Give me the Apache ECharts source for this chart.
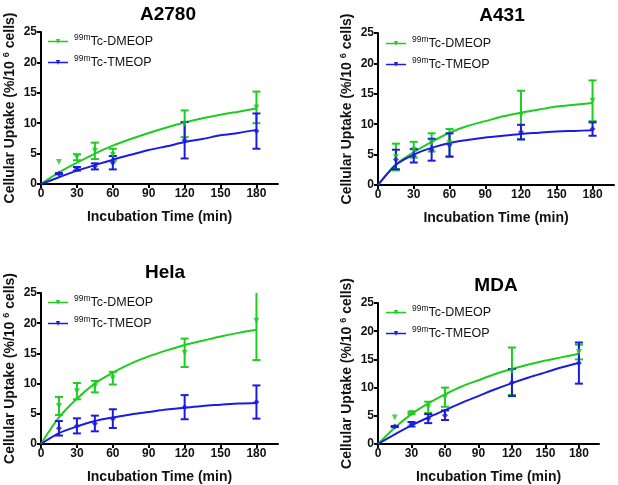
<!DOCTYPE html>
<html><head><meta charset="utf-8">
<script src="https://cdn.jsdelivr.net/npm/echarts@6/dist/echarts.min.js"></script>
<style>html,body{margin:0;padding:0;background:#fff}#c{width:618px;height:485px}</style>
</head><body><div id="c"></div>
<script>
// ---- data ----
const panelTitles = ['A2780', 'A431', 'Hela', 'MDA'];
const times = [15, 30, 45, 60, 120, 180];
const fitTimes = [0, 15, 30, 45, 60, 75, 90, 105, 120, 135, 150, 165, 180];
const xTicks = [0, 30, 60, 90, 120, 150, 180];

const a2780DmeopMean = [3.6, 4.4, 5.45, 4.8, 9.9, 12.6];
const a2780DmeopErr  = [0, 0.5, 1.35, 1.0, 2.2, 2.6];
const a2780TmeopMean = [1.7, 2.5, 2.9, 3.5, 7.2, 8.7];
const a2780TmeopErr  = [0.1, 0.3, 0.5, 1.1, 3.0, 2.9];
const a2780DmeopFit  = [0, 1.9, 3.5, 5.0, 6.3, 7.4, 8.4, 9.3, 10.1, 10.8, 11.4, 11.9, 12.4];
const a2780TmeopFit  = [0, 1.1, 2.2, 3.1, 4.0, 4.8, 5.6, 6.2, 6.9, 7.4, 8.0, 8.4, 8.9];

const a431DmeopMean = [4.6, 5.8, 7.0, 6.9, 11.5, 13.85];
const a431DmeopErr  = [2.2, 1.3, 1.5, 2.3, 4.0, 3.35];
const a431TmeopMean = [4.2, 4.8, 5.8, 6.6, 8.7, 9.2];
const a431TmeopErr  = [1.6, 1.1, 1.8, 1.9, 1.2, 1.1];
const a431DmeopFit  = [0, 3.4, 5.4, 7.1, 8.6, 9.7, 10.5, 11.3, 11.9, 12.4, 12.9, 13.2, 13.5];
const a431TmeopFit  = [0, 3.3, 5.0, 6.1, 6.9, 7.4, 7.8, 8.1, 8.4, 8.6, 8.8, 8.9, 9.0];

const helaDmeopMean = [6.3, 8.75, 9.5, 10.9, 15.1, 20.4];
const helaDmeopErr  = [1.5, 1.35, 0.95, 1.05, 2.35, 6.5];
const helaTmeopMean = [2.6, 3.0, 3.4, 4.2, 6.1, 6.95];
const helaTmeopErr  = [1.2, 1.25, 1.3, 1.55, 2.0, 2.75];
const helaDmeopFit  = [0, 4.4, 7.5, 10.0, 11.8, 13.3, 14.5, 15.5, 16.4, 17.1, 17.8, 18.4, 18.9];
const helaTmeopFit  = [0, 1.8, 2.9, 3.8, 4.4, 4.9, 5.3, 5.7, 6.0, 6.3, 6.5, 6.7, 6.8];

const mdaDmeopMean = [4.7, 5.5, 6.5, 8.3, 12.9, 16.3];
const mdaDmeopErr  = [0, 0.2, 1.0, 1.7, 4.2, 1.3];
const mdaTmeopMean = [3.1, 3.5, 4.5, 5.1, 10.9, 14.35];
const mdaTmeopErr  = [0.1, 0.4, 0.8, 0.85, 2.4, 3.65];
const mdaDmeopFit  = [0, 2.9, 5.3, 7.2, 8.8, 10.2, 11.3, 12.4, 13.3, 14.1, 14.8, 15.4, 16.0];
const mdaTmeopFit  = [0, 1.7, 3.3, 4.7, 6.0, 7.3, 8.5, 9.7, 10.8, 11.8, 12.7, 13.6, 14.4];

const seriesNames = ['99mTc-DMEOP', '99mTc-TMEOP'];

// ---- layout / style ----
const FONT = 'Liberation Sans, Arial, sans-serif';
const GREEN = '#1fcc1f';
const BLUE = '#1c1ce0';
const YMAX = 25, XMAX = 198;

const panels = [
  {title: panelTitles[0], dm: a2780DmeopMean, de: a2780DmeopErr, tm: a2780TmeopMean, te: a2780TmeopErr, df: a2780DmeopFit, tf: a2780TmeopFit,
   grid: {left: 41, top: 32, width: 237, height: 152}, titlePos: [163, 0], legend: [48, 41]},
  {title: panelTitles[1], dm: a431DmeopMean, de: a431DmeopErr, tm: a431TmeopMean, te: a431TmeopErr, df: a431DmeopFit, tf: a431TmeopFit,
   grid: {left: 378, top: 33, width: 236, height: 152}, titlePos: [497, 1], legend: [386, 43]},
  {title: panelTitles[2], dm: helaDmeopMean, de: helaDmeopErr, tm: helaTmeopMean, te: helaTmeopErr, df: helaDmeopFit, tf: helaTmeopFit,
   grid: {left: 41, top: 293, width: 237, height: 152}, titlePos: [160, 258], legend: [48, 302]},
  {title: panelTitles[3], dm: mdaDmeopMean, de: mdaDmeopErr, tm: mdaTmeopMean, te: mdaTmeopErr, df: mdaDmeopFit, tf: mdaTmeopFit,
   grid: {left: 378, top: 303, width: 221, height: 141}, titlePos: [491, 271], legend: [386, 312]}
];

function errRender(color) {
  return function (params, api) {
    const x = api.value(0), m = api.value(1), e = api.value(2);
    if (!(e > 0)) return null;
    const hiV = m + e, loV = Math.max(0, m - e);
    const clipped = hiV > YMAX;
    const top = api.coord([x, Math.min(hiV, YMAX)]);
    const bot = api.coord([x, loV]);
    const hw = 4;
    const st = {stroke: color, lineWidth: 2};
    const ch = [
      {type: 'line', shape: {x1: top[0], y1: top[1], x2: bot[0], y2: bot[1]}, style: st},
      {type: 'line', shape: {x1: bot[0] - hw, y1: bot[1], x2: bot[0] + hw, y2: bot[1]}, style: st}
    ];
    if (!clipped) ch.push({type: 'line', shape: {x1: top[0] - hw, y1: top[1], x2: top[0] + hw, y2: top[1]}, style: st});
    return {type: 'group', children: ch};
  };
}

const legendIcon = 'path://M0,3.2 L20,3.2 L20,4.8 L0,4.8 Z M8,1.5 L12,1.5 L10,6.5 Z';

const option = {
  backgroundColor: '#fff',
  animation: false,
  title: [], grid: [], xAxis: [], yAxis: [], legend: [], series: []
};

panels.forEach((p, i) => {
  option.title.push({text: p.title, left: p.titlePos[0], top: p.titlePos[1], textAlign: 'center',
    textStyle: {fontFamily: FONT, fontWeight: 'bold', fontSize: 19, color: '#000'}});
  option.grid.push(Object.assign({containLabel: false}, p.grid));
  option.xAxis.push({
    gridIndex: i, type: 'value', min: 0, max: XMAX,
    name: 'Incubation Time (min)', nameLocation: 'middle', nameGap: 26,
    nameTextStyle: {fontFamily: FONT, fontWeight: 'bold', fontSize: 14, color: '#111'},
    axisLine: {show: true, onZero: false, lineStyle: {color: '#000', width: 2}},
    axisTick: {show: true, length: 4, lineStyle: {color: '#000', width: 2}, customValues: xTicks},
    axisLabel: {fontFamily: FONT, fontWeight: 'bold', fontSize: 12, color: '#111', margin: 4, customValues: xTicks},
    splitLine: {show: false}
  });
  option.yAxis.push({
    gridIndex: i, type: 'value', min: 0, max: YMAX, interval: 5,
    name: 'Cellular Uptake (%/10 {sup|6} cells)', nameLocation: 'middle', nameGap: 22, nameRotate: 90,
    nameTextStyle: {fontFamily: FONT, fontWeight: 'bold', fontSize: 14, color: '#111',
      rich: {sup: {fontFamily: FONT, fontWeight: 'bold', fontSize: 9, color: '#111', padding: [0, 0, 8, 0]}}},
    axisLine: {show: true, lineStyle: {color: '#000', width: 2}},
    axisTick: {show: true, length: 4, lineStyle: {color: '#000', width: 2}},
    axisLabel: {fontFamily: FONT, fontWeight: 'bold', fontSize: 12, color: '#111', margin: 4},
    splitLine: {show: false}
  });
  [0, 1].forEach(k => {
    option.legend.push({
      data: [seriesNames[k]], left: p.legend[0], top: p.legend[1] + k * 21 - 8,
      icon: legendIcon, itemWidth: 20, itemHeight: 8, itemGap: 0, padding: 0,
      selectedMode: false,
      formatter: n => '{sup|99m}' + n.slice(3),
      textStyle: {fontFamily: FONT, fontSize: 12.5, color: '#111', padding: [0, 0, 0, 1],
        rich: {sup: {fontFamily: FONT, fontSize: 8.5, color: '#111', padding: [0, 0, 8, 0]}}}
    });
  });
  const groups = [
    {name: seriesNames[0], color: GREEN, mean: p.dm, err: p.de, fit: p.df, sym: 'triangle', rot: 180, size: 6},
    {name: seriesNames[1], color: BLUE, mean: p.tm, err: p.te, fit: p.tf, sym: 'diamond', rot: 0, size: 6}
  ];
  groups.forEach((g, k) => {
    option.series.push({
      name: g.name, type: 'line', xAxisIndex: i, yAxisIndex: i, smooth: 0.3, showSymbol: false, symbol: 'none',
      lineStyle: {color: g.color, width: 2}, itemStyle: {color: g.color},
      data: fitTimes.map((t, j) => [t, g.fit[j]]), z: 2 + k
    });
    option.series.push({
      name: g.name + '-err', type: 'custom', xAxisIndex: i, yAxisIndex: i,
      renderItem: errRender(g.color), data: times.map((t, j) => [t, g.mean[j], g.err[j]]), z: 3 + k
    });
    option.series.push({
      name: g.name + '-pts', type: 'scatter', xAxisIndex: i, yAxisIndex: i, symbol: g.sym, symbolRotate: g.rot,
      symbolSize: g.size, itemStyle: {color: g.color}, data: times.map((t, j) => [t, g.mean[j]]), z: 4 + k
    });
  });
});

const chart = echarts.init(document.getElementById('c'), null, {renderer: 'canvas'});
chart.setOption(option);
</script>
</body></html>
